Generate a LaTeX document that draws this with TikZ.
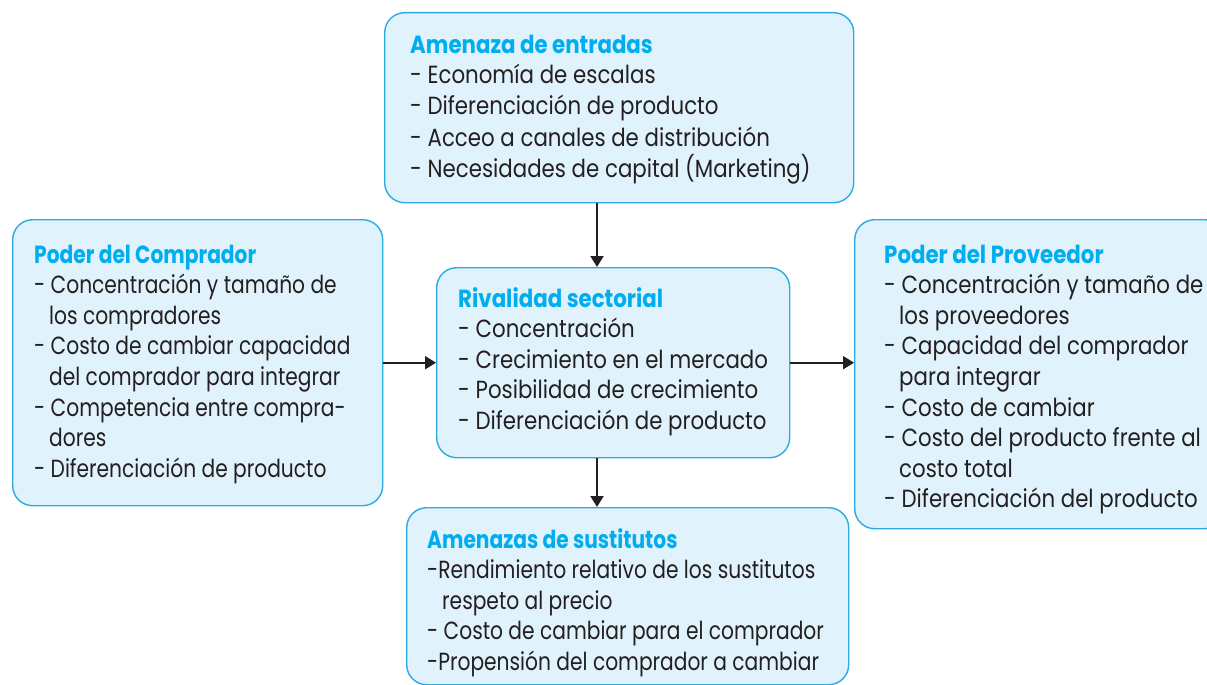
\documentclass[tikz,border=0pt]{standalone}
\usepackage{fontspec}
\setmainfont{Poppins}[FakeStretch=0.86]
\newfontfamily\condfont{Poppins}[FakeStretch=0.815]
\usetikzlibrary{arrows.meta}
\definecolor{boxfill}{HTML}{E0F2FB}
\definecolor{boxline}{HTML}{2DAAE1}
\definecolor{titlec}{HTML}{00AEEF}
\definecolor{textc}{HTML}{231F20}
\newcommand{\bodyfnt}{\fontsize{24.8}{30.6}\selectfont}
\newcommand{\ttl}[1]{\leavevmode{\bfseries\color{titlec}#1}}
\newcommand{\ind}{\hspace*{15pt}}
\tikzset{
  box/.style={draw=boxline, fill=boxfill, line width=1.4pt, rounded corners=20pt, inner sep=0pt, anchor=north west},
  txt/.style={anchor=base west, inner sep=0pt, text=textc},
  arr/.style={draw=textc, line width=2pt, -{Triangle[width=13pt,length=11pt]}}
}
\begin{document}
\begin{tikzpicture}[x=1pt,y=-1pt]
\useasboundingbox (0,0) rectangle (1207,685);
% boxes
\node[box, minimum width=469pt, minimum height=190pt] (top) at (384,12) {};
\node[box, minimum width=370pt, minimum height=286pt] (left) at (12,219) {};
\node[box, minimum width=353pt, minimum height=190pt] (center) at (436,267) {};
\node[box, minimum width=370pt, minimum height=309pt] (right) at (854,219) {};
\node[box, minimum width=442pt, minimum height=177pt] (bottom) at (406,507) {};
% texts
\node[txt] (toptxt) at (410,53) {\parbox[t]{600pt}{\bodyfnt\fontsize{24.8}{31}\selectfont\raggedright
\ttl{Amenaza de entradas}\\
- Economía de escalas\\
- Diferenciación de producto\\
- Acceo a canales de distribución\\
- Necesidades de capital (Marketing)}};
\node[txt] (lefttxt) at (34,263) {\parbox[t]{600pt}{\condfont\bodyfnt\raggedright
\ttl{Poder del Comprador}\\
- Concentración y tamaño de\\
\ind los compradores\\
- Costo de cambiar capacidad\\
\ind del comprador para integrar\\
- Competencia entre compra-\\
\ind dores\\
- Diferenciación de producto}};
\node[txt] (centertxt) at (458,307) {\parbox[t]{600pt}{\bodyfnt\raggedright
\ttl{Rivalidad sectorial}\\
- Concentración\\
- Crecimiento en el mercado\\
- Posibilidad de crecimiento\\
- Diferenciación de producto}};
\node[txt] (righttxt) at (884,263) {\parbox[t]{600pt}{\bodyfnt\raggedright
\ttl{Poder del Proveedor}\\
- Concentración y tamaño de\\
\ind los proveedores\\
- Capacidad del comprador\\
\ind para integrar\\
- Costo de cambiar\\
- Costo del producto frente al\\
\ind costo total\\
- Diferenciación del producto}};
\node[txt] (bottomtxt) at (427,548) {\parbox[t]{600pt}{\condfont\bodyfnt\raggedright
\ttl{Amenazas de sustitutos}\\
-Rendimiento relativo de los sustitutos\\
\ind respeto al precio\\
- Costo de cambiar para el comprador\\
-Propensión del comprador a cambiar}};
% connectors
\coordinate (ax) at (597,0);
\draw[arr] (top.south -| ax) -- (center.north -| ax);
\draw[arr] (left.east) -- (center.west);
\draw[arr] (center.east) -- (center.east -| right.west);
\draw[arr] (center.south -| ax) -- (bottom.north -| ax);
\end{tikzpicture}
\end{document}
